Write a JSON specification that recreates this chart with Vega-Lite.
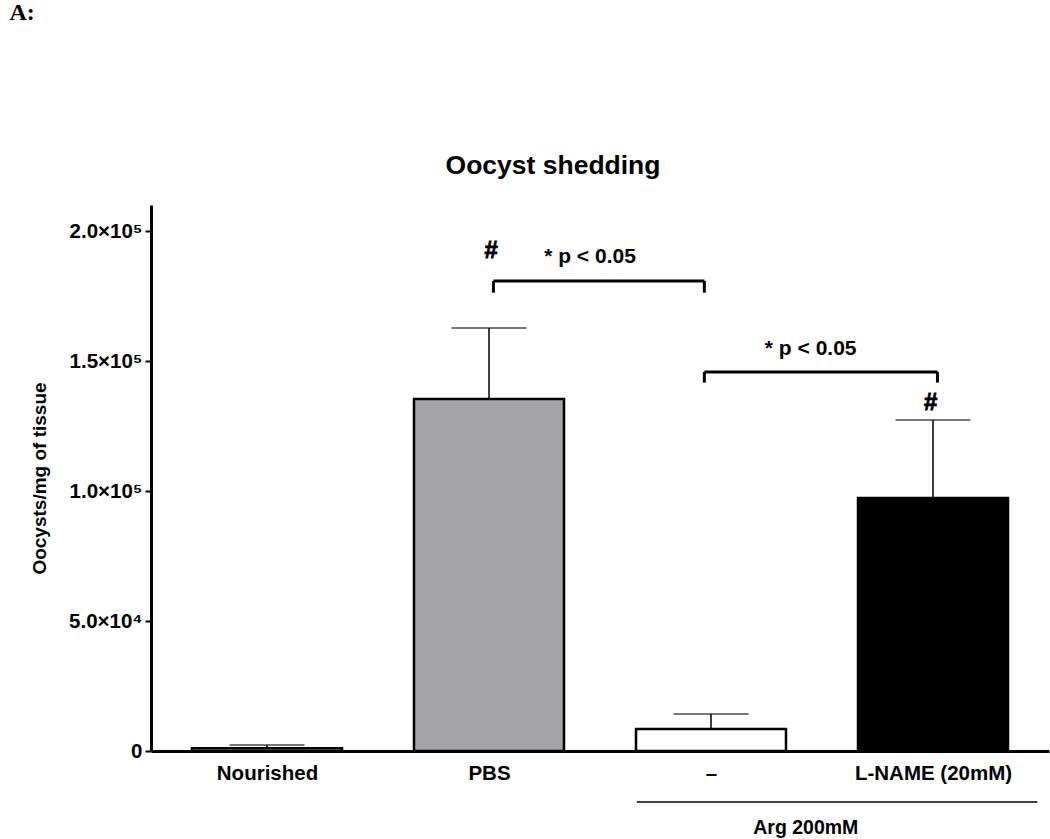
{
  "$schema": "https://vega.github.io/schema/vega-lite/v6.json",
  "width": 898,
  "height": 546,
  "autosize": {"type": "none"},
  "padding": {"left": 151, "top": 205, "right": 1, "bottom": 88},
  "background": "white",
  "title": {
    "text": "Oocyst shedding",
    "font": "Liberation Sans",
    "fontSize": 26.5,
    "fontWeight": "bold",
    "color": "black",
    "anchor": "middle",
    "dx": -47,
    "dy": 209,
    "offset": 30
  },
  "config": {
    "view": {"stroke": null},
    "font": "Liberation Sans"
  },
  "datasets": {
    "bars": [
      {"pos": 1, "group": "Nourished", "mean": 1100, "upper": 2300},
      {"pos": 2, "group": "PBS", "mean": 135400, "upper": 162700},
      {"pos": 3, "group": "–", "mean": 8460, "upper": 14200},
      {"pos": 4, "group": "L-NAME (20mM)", "mean": 97300, "upper": 127300}
    ],
    "brackets": [
      {"x": 2.02, "x2": 2.97, "y": 180800, "y2": 180800},
      {"x": 2.02, "x2": 2.02, "y": 180800, "y2": 176300},
      {"x": 2.97, "x2": 2.97, "y": 180800, "y2": 176300},
      {"x": 2.97, "x2": 4.02, "y": 145800, "y2": 145800},
      {"x": 2.97, "x2": 2.97, "y": 145800, "y2": 141700},
      {"x": 4.02, "x2": 4.02, "y": 145800, "y2": 141700}
    ],
    "hash": [
      {"x": 2.01, "y": 192300, "text": "#"},
      {"x": 3.99, "y": 134000, "text": "#"}
    ],
    "pval": [
      {"x": 2.455, "y": 190000, "text": "* p < 0.05"},
      {"x": 3.449, "y": 154600, "text": "* p < 0.05"}
    ],
    "group_line": [
      {"x": 2.666, "x2": 4.47, "y": -19600}
    ],
    "group_text": [
      {"x": 3.427, "y": -29600, "text": "Arg 200mM"}
    ],
    "panel": [
      {"x": -0.16, "y": 284000, "text": "A:"}
    ]
  },
  "layer": [
    {
      "data": {"name": "bars"},
      "mark": {"type": "bar", "orient": "vertical", "width": 150, "stroke": "black", "strokeWidth": 2.5},
      "encoding": {
        "x": {
          "field": "pos", "type": "quantitative",
          "scale": {"domain": [0.5, 4.5], "nice": false, "zero": false},
          "axis": {
            "values": [1, 2, 3, 4],
            "labelExpr": "datum.value == 1 ? 'Nourished' : datum.value == 2 ? 'PBS' : datum.value == 3 ? '–' : 'L-NAME  (20mM)'",
            "ticks": false,
            "grid": false,
            "title": null,
            "domainColor": "black",
            "domainWidth": 3,
            "labelFont": "Liberation Sans",
            "labelFontSize": 20.5,
            "labelFontWeight": "bold",
            "labelColor": "black",
            "labelPadding": 12
          }
        },
        "y": {
          "field": "mean", "type": "quantitative",
          "scale": {"domain": [0, 210000], "nice": false},
          "axis": {
            "values": [0, 50000, 100000, 150000, 200000],
            "labelExpr": "datum.value == 0 ? '0' : datum.value == 50000 ? '5.0×10⁴' : datum.value == 100000 ? '1.0×10⁵' : datum.value == 150000 ? '1.5×10⁵' : '2.0×10⁵'",
            "grid": false,
            "title": "Oocysts/mg of tissue",
            "titleFont": "Liberation Sans",
            "titleFontSize": 19,
            "titleFontWeight": "bold",
            "titleColor": "black",
            "titlePadding": 19,
            "domainColor": "black",
            "domainWidth": 3,
            "tickColor": "black",
            "tickWidth": 2,
            "tickSize": 6,
            "labelFont": "Liberation Sans",
            "labelFontSize": 20.5,
            "labelFontWeight": "bold",
            "labelColor": "black",
            "labelPadding": 3
          }
        },
        "color": {
          "field": "group", "type": "nominal",
          "scale": {"domain": ["Nourished", "PBS", "–", "L-NAME (20mM)"], "range": ["#ffffff", "#a4a3a8", "#ffffff", "#000000"]},
          "legend": null
        }
      }
    },
    {
      "data": {"name": "bars"},
      "mark": {"type": "rule", "color": "black", "strokeWidth": 1.5},
      "encoding": {
        "x": {"field": "pos", "type": "quantitative"},
        "y": {"field": "mean", "type": "quantitative"},
        "y2": {"field": "upper"}
      }
    },
    {
      "data": {"name": "bars"},
      "mark": {"type": "tick", "orient": "horizontal", "color": "black", "size": 75, "thickness": 1.5},
      "encoding": {
        "x": {"field": "pos", "type": "quantitative"},
        "y": {"field": "upper", "type": "quantitative"}
      }
    },
    {
      "data": {"name": "brackets"},
      "mark": {"type": "rule", "color": "black", "strokeWidth": 3},
      "encoding": {
        "x": {"field": "x", "type": "quantitative"},
        "x2": {"field": "x2"},
        "y": {"field": "y", "type": "quantitative"},
        "y2": {"field": "y2"}
      }
    },
    {
      "data": {"name": "pval"},
      "mark": {"type": "text", "font": "Liberation Sans", "fontSize": 21, "fontWeight": "bold", "color": "black", "baseline": "middle", "align": "center"},
      "encoding": {
        "x": {"field": "x", "type": "quantitative"},
        "y": {"field": "y", "type": "quantitative"},
        "text": {"field": "text"}
      }
    },
    {
      "data": {"name": "hash"},
      "mark": {"type": "text", "font": "Liberation Sans", "fontSize": 24, "fontWeight": "bold", "color": "black", "baseline": "middle", "align": "center", "stroke": "black", "strokeWidth": 0.8},
      "encoding": {
        "x": {"field": "x", "type": "quantitative"},
        "y": {"field": "y", "type": "quantitative"},
        "text": {"field": "text"}
      }
    },
    {
      "data": {"name": "group_line"},
      "mark": {"type": "rule", "color": "black", "strokeWidth": 1.5},
      "encoding": {
        "x": {"field": "x", "type": "quantitative"},
        "x2": {"field": "x2"},
        "y": {"field": "y", "type": "quantitative"}
      }
    },
    {
      "data": {"name": "group_text"},
      "mark": {"type": "text", "font": "Liberation Sans", "fontSize": 19.5, "fontWeight": "bold", "color": "black", "baseline": "middle", "align": "center"},
      "encoding": {
        "x": {"field": "x", "type": "quantitative"},
        "y": {"field": "y", "type": "quantitative"},
        "text": {"field": "text"}
      }
    },
    {
      "data": {"name": "panel"},
      "mark": {"type": "text", "font": "Liberation Serif", "fontSize": 24, "fontWeight": "bold", "color": "black", "baseline": "middle", "align": "left"},
      "encoding": {
        "x": {"field": "x", "type": "quantitative"},
        "y": {"field": "y", "type": "quantitative"},
        "text": {"field": "text"}
      }
    }
  ]
}
